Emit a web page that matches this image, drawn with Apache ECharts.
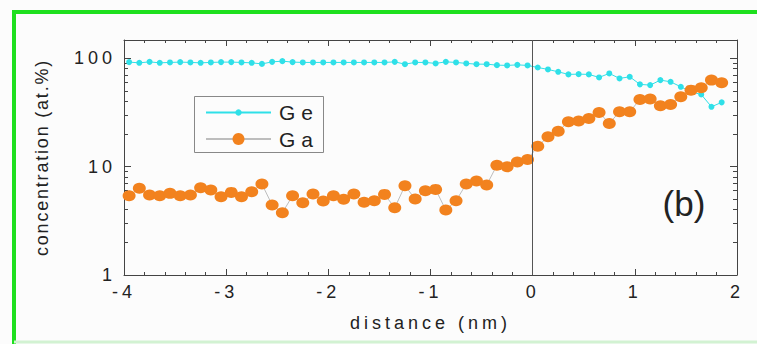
<!DOCTYPE html>
<html><head><meta charset="utf-8">
<script src="https://cdn.jsdelivr.net/npm/echarts@6/dist/echarts.min.js"></script>
<style>html,body{margin:0;padding:0;background:#fcfcfc}#c{width:757px;height:344px}</style>
</head><body><div id="c"></div>
<script>
// distance (nm)
const distance = [-3.95,-3.85,-3.75,-3.65,-3.55,-3.45,-3.35,-3.25,-3.15,-3.05,
  -2.95,-2.85,-2.75,-2.65,-2.55,-2.45,-2.35,-2.25,-2.15,-2.05,
  -1.95,-1.85,-1.75,-1.65,-1.55,-1.45,-1.35,-1.25,-1.15,-1.05,
  -0.95,-0.85,-0.75,-0.65,-0.55,-0.45,-0.35,-0.25,-0.15,-0.05,
  0.05,0.15,0.25,0.35,0.45,0.55,0.65,0.75,0.85,0.95,
  1.05,1.15,1.25,1.35,1.45,1.55,1.65,1.75,1.85];
// Ge concentration (at.%)
const geValues = [91.9,90.5,92.4,90.5,91.3,91.9,91.3,90.5,91.3,91.9,
  91.9,91.3,90.5,88.5,92.4,93.8,91.9,91.3,91.3,91.3,
  91.3,91.3,91.3,91.3,91.3,91.3,92.4,88.0,91.3,91.3,
  89.4,92.4,91.3,89.4,88.0,88.0,86.2,85.7,86.7,85.7,
  82.0,78.7,74.8,70.8,71.2,70.8,66.4,72.3,65.0,67.3,
  57.3,56.4,62.7,60.5,54.4,48.9,46.2,35.6,39.1];
// Ga concentration (at.%)
const gaValues = [5.38,6.30,5.46,5.38,5.66,5.38,5.46,6.38,6.07,5.27,
  5.78,5.27,5.86,6.90,4.42,3.75,5.38,4.64,5.58,4.81,
  5.38,4.99,5.58,4.68,4.84,5.54,4.17,6.65,5.02,5.98,
  6.16,3.97,4.84,6.90,7.35,6.75,10.3,9.95,11.0,11.6,
  15.4,18.8,21.2,25.9,26.3,27.8,31.6,25.0,32.0,32.0,
  41.6,41.9,36.3,37.4,44.0,50.7,53.2,62.7,59.2];
const yMajorTicks = [1, 10, 100];
const yMinorTicks = [2,3,4,5,6,7,8,9,20,30,40,50,60,70,80,90];
const seriesNames = ['Ge', 'Ga'];
const panelLabel = '(b)';

const FONT = 'Liberation Sans, Arial, sans-serif';
const TXT = '#222';
const AX = '#444';

const chart = echarts.init(document.getElementById('c'), null, {renderer: 'svg'});

function yAxisCfg(pos, major, withLabels) {
  return {
    type: 'log', logBase: 10, min: 1, max: 147, position: pos,
    name: withLabels ? 'concentration (at.%)' : '',
    nameLocation: 'middle', nameGap: 73, nameRotate: 90,
    nameTextStyle: {fontFamily: FONT, fontSize: 18, color: TXT},
    axisLine: {show: major, onZero: false, lineStyle: {color: AX, width: 1}},
    axisTick: {show: true, inside: true, length: major ? 7 : 4,
      customValues: major ? yMajorTicks : yMinorTicks,
      lineStyle: {color: AX, width: 1}},
    axisLabel: {show: withLabels, customValues: yMajorTicks, margin: 8,
      fontFamily: FONT, fontSize: 18, color: TXT, formatter: v => String(Math.round(v))},
    splitLine: {show: false}, minorTick: {show: false}
  };
}
function xAxisCfg(pos, withLabels) {
  return {
    type: 'value', min: -4, max: 2, interval: 1, position: pos,
    name: withLabels ? 'distance (nm)' : '',
    nameLocation: 'middle', nameGap: 39,
    nameTextStyle: {fontFamily: FONT, fontSize: 18, color: TXT},
    axisLine: {show: true, onZero: false, lineStyle: {color: AX, width: 1}},
    axisTick: {show: true, inside: true, length: 6, lineStyle: {color: AX, width: 1}},
    minorTick: {show: true, splitNumber: 5, length: 3, lineStyle: {color: AX, width: 1}},
    axisLabel: {show: withLabels, margin: 8, fontFamily: FONT, fontSize: 18, color: TXT},
    splitLine: {show: false}, minorSplitLine: {show: false}
  };
}
function legendCfg(name, top, itemHeight) {
  return {
    orient: 'vertical', left: 205, top: top, padding: 0,
    itemWidth: 65, itemHeight: itemHeight,
    textStyle: {fontFamily: FONT, fontSize: 21, color: TXT, padding: [0, 0, 0, 3]},
    data: [name]
  };
}

chart.setOption({
  animation: false,
  backgroundColor: '#fcfcfc',
  grid: {left: 124, right: 20, top: 40, bottom: 69},
  xAxis: [xAxisCfg('bottom', true), xAxisCfg('top', false)],
  yAxis: [yAxisCfg('left', true, true), yAxisCfg('left', false, false),
          yAxisCfg('right', true, false), yAxisCfg('right', false, false)],
  legend: [legendCfg(seriesNames[0], 102, 8), legendCfg(seriesNames[1], 128.5, 15)],
  series: [
    {
      name: seriesNames[0], type: 'line', xAxisIndex: 0, yAxisIndex: 0,
      data: distance.map((d, i) => [d, geValues[i]]),
      symbol: 'circle', symbolSize: 6,
      itemStyle: {color: '#2fe0e8'},
      lineStyle: {color: '#2fe0e8', width: 1}
    },
    {
      name: seriesNames[1], type: 'line', xAxisIndex: 0, yAxisIndex: 0,
      data: distance.map((d, i) => [d, gaValues[i]]),
      symbol: 'circle', symbolSize: [13, 11],
      itemStyle: {color: '#f2821e'},
      lineStyle: {color: '#bdbdbd', width: 1},
      markLine: {
        silent: true, symbol: ['none', 'none'], label: {show: false},
        lineStyle: {color: '#555', width: 1, type: 'solid'},
        data: [{xAxis: 0}]
      }
    }
  ],
  graphic: [
    {type: 'polyline', silent: true, shape: {points: [[14, 344], [14, 12], [757, 12]]},
     style: {stroke: '#1ee01e', lineWidth: 4, fill: null}},
    {type: 'line', silent: true, shape: {x1: 14, y1: 342, x2: 757, y2: 342},
     style: {stroke: '#d2f2d2', lineWidth: 3}},
    {type: 'rect', silent: true, z: -1, shape: {x: 194.5, y: 96.5, width: 129, height: 56},
     style: {stroke: '#888', lineWidth: 1, fill: '#fcfcfc'}},
    {type: 'text', silent: true, x: 684, y: 203,
     style: {text: panelLabel, font: '35px ' + FONT, fill: TXT, align: 'center', verticalAlign: 'middle'}}
  ]
});

function applySpacing() {
  document.querySelectorAll('#c svg text').forEach(t => {
    const s = t.textContent;
    let sp = 4;
    if (s === 'concentration (at.%)') sp = 1.8;
    else if (s === panelLabel) sp = 0;
    else if (s === 'Ge' || s === 'Ga') sp = 6;
    t.setAttribute('letter-spacing', sp);
  });
}
chart.on('finished', applySpacing);
chart.on('rendered', applySpacing);
setTimeout(applySpacing, 50);
setTimeout(applySpacing, 300);
</script></body></html>
